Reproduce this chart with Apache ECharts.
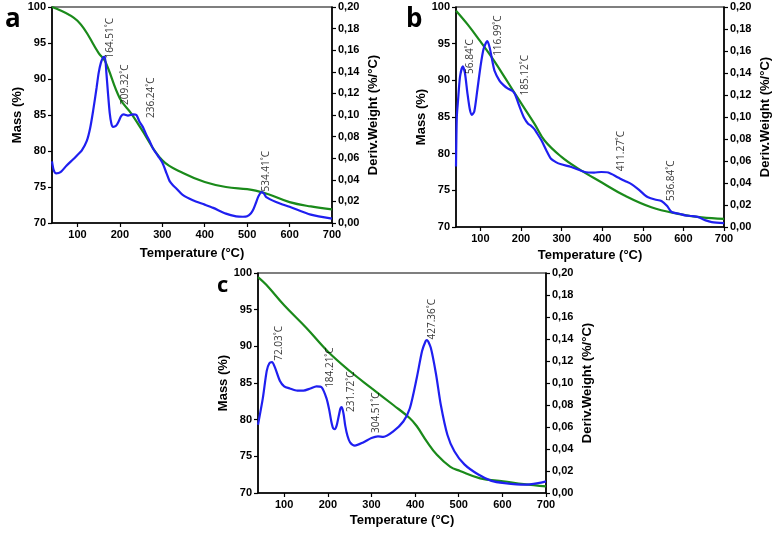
<!DOCTYPE html>
<html>
<head>
<meta charset="utf-8">
<script src="https://cdn.jsdelivr.net/npm/echarts@6/dist/echarts.min.js"></script>
<style>html,body{margin:0;padding:0;background:#fff}#c{width:774px;height:533px}</style>
</head>
<body>
<div id="c"></div>
<script>
// ---------- data ----------
var xTicks = [100, 200, 300, 400, 500, 600, 700];

// panel a
var aMassT = [40,100,150,165,200,227,250,300,350,400,450,500,520,550,600,650,700];
var aMass  = [100,98.1,93.6,92.5,87.3,85.2,83.1,78.7,76.9,75.7,75.0,74.7,74.5,74.0,72.9,72.3,71.9];
var aDerT  = [40,44,50,60,74,90,100,110,122,130,137,145,150,155,160,164.5,168,172,176,180,184,191,197,203,209,219,231,239,246,254,262,270,278,290,300,310,317,325,333,348,372,400,420,450,474,490,500,509,515,521,527,534.4,540,545,568,600,650,700];
var aDer   = [0.057,0.049,0.046,0.047,0.053,0.059,0.063,0.067,0.076,0.088,0.104,0.125,0.139,0.148,0.153,0.154,0.14,0.12,0.102,0.092,0.089,0.090,0.094,0.099,0.1005,0.0995,0.1005,0.1,0.094,0.089,0.082,0.076,0.069,0.062,0.056,0.046,0.039,0.035,0.032,0.026,0.021,0.017,0.014,0.0087,0.0062,0.0058,0.0062,0.009,0.013,0.019,0.025,0.0285,0.027,0.024,0.0195,0.015,0.0077,0.004];
var aPeaks = [[178,0.171,'164.51˚C'],[213,0.128,'209.32˚C'],[274,0.116,'236.24˚C'],[544,0.048,'534.41˚C']];

// panel b
var bMassT = [40,69,100,126,151,192,233,258,299,340,398,455,521,587,645,700];
var bMass  = [99.5,97.6,95.3,93.3,91.2,87.6,84.1,81.8,79.6,78.0,76.1,74.3,72.7,71.8,71.3,71.1];
var bDerT  = [40,42,45,50,56.8,62,68,74,79,85,92,100,108,117,123,130,135,147,157,167,178,185,192,200,208,217,225,233,240,250,262,274,286,299,324,357,380,398,415,439,455,472,490,505,513,530,546,560,571,590,604,620,637,655,670,700];
var bDer   = [0.055,0.10,0.115,0.137,0.146,0.14,0.122,0.107,0.102,0.105,0.123,0.145,0.162,0.169,0.163,0.15,0.142,0.133,0.129,0.126,0.124,0.121,0.114,0.106,0.099,0.094,0.092,0.089,0.085,0.079,0.07,0.062,0.059,0.057,0.0545,0.050,0.0495,0.050,0.0495,0.045,0.042,0.039,0.034,0.029,0.027,0.025,0.0236,0.019,0.0136,0.012,0.0106,0.010,0.009,0.006,0.0045,0.0036];
var bPeaks = [[75,0.155,'56.84˚C'],[144,0.174,'116.99˚C'],[210,0.138,'185.12˚C'],[446,0.069,'411.27˚C'],[569,0.042,'536.84˚C']];

// panel c
var cMassT = [40,59,100,151,200,251,300,350,388,404,427,450,480,503,549,602,649,700];
var cMass  = [99.45,98.4,95.6,92.5,89.3,86.6,84.3,82.0,80.2,79.1,77.0,75.2,73.6,73.0,72.0,71.6,71.2,70.9];
var cDerT  = [40,51,60,66,72,79,90,100,113,130,144,160,174,186,197,203,208,212,216,220,224,229,232,236,240,245,251,262,281,300,315,327,350,373,388,404,416,424,427,436,448,459,474,490,513,544,575,605,651,682,700];
var cDer   = [0.062,0.086,0.111,0.118,0.119,0.114,0.102,0.097,0.095,0.093,0.093,0.095,0.097,0.096,0.086,0.076,0.065,0.059,0.058,0.061,0.068,0.077,0.078,0.072,0.061,0.052,0.046,0.043,0.046,0.050,0.0515,0.051,0.056,0.065,0.077,0.105,0.129,0.138,0.139,0.132,0.108,0.080,0.053,0.038,0.026,0.017,0.011,0.009,0.0076,0.009,0.0106];
var cPeaks = [[88.5,0.136,'72.03˚C'],[205,0.114,'184.21˚C'],[254.5,0.092,'231.72˚C'],[310,0.073,'304.51˚C'],[438,0.158,'427.36˚C']];

// ---------- chart ----------
var GREEN = '#1a8a1a', BLUE = '#1f1ff0';
var FONT = 'Liberation Sans';
function zip(xs, ys){ return xs.map(function(x,i){ return [x, ys[i]]; }); }

var grids = [
  {left:52, top:7, width:280, height:216},
  {left:456, top:7, width:268, height:220},
  {left:258, top:273, width:288, height:220}
];
var nameGapsX = [24, 22, 21];

var option = {
  animation:false,
  backgroundColor:'#fff',
  title:[
    {text:'a', left:0, top:2, textStyle:{fontSize:26, fontWeight:'bold', fontFamily:'Open Sans', color:'#000'}},
    {text:'b', left:401, top:2, textStyle:{fontSize:26, fontWeight:'bold', fontFamily:'Open Sans', color:'#000'}},
    {text:'c', left:212, top:270, textStyle:{fontSize:22, fontWeight:'bold', fontFamily:'Open Sans', color:'#000'}}
  ],
  grid: grids.map(function(g){ return Object.assign({show:true, borderColor:'#000', borderWidth:1.2, backgroundColor:'transparent'}, g); }),
  xAxis: [0,1,2].map(function(i){ return {
    type:'value', gridIndex:i, min:40, max:700,
    name:'Temperature (°C)', nameLocation:'middle', nameGap:nameGapsX[i],
    nameTextStyle:{fontSize:13, fontWeight:'bold', fontFamily:FONT, color:'#000'},
    axisLine:{show:true, onZero:false, lineStyle:{color:'#000', width:1.5}},
    axisTick:{show:true, length:4, customValues:xTicks, lineStyle:{color:'#000', width:1.2}},
    axisLabel:{customValues:xTicks, fontSize:11, fontWeight:'bold', fontFamily:FONT, color:'#000', margin:6},
    splitLine:{show:false}
  }; }),
  yAxis: [],
  series: []
};

[0,1,2].forEach(function(i){
  option.yAxis.push({
    type:'value', gridIndex:i, min:70, max:100, interval:5, position:'left',
    name:'Mass (%)', nameLocation:'middle', nameGap:26,
    nameTextStyle:{fontSize:13, fontWeight:'bold', fontFamily:FONT, color:'#000'},
    axisLine:{show:true, onZero:false, lineStyle:{color:'#000', width:1.5}},
    axisTick:{show:true, length:4, lineStyle:{color:'#000', width:1.2}},
    axisLabel:{fontSize:11, fontWeight:'bold', fontFamily:FONT, color:'#000', margin:6},
    splitLine:{show:false}
  });
  option.yAxis.push({
    type:'value', gridIndex:i, min:0, max:0.2, interval:0.02, position:'right',
    name:'Deriv.Weight (%/°C)', nameLocation:'middle', nameGap:35,
    nameTextStyle:{fontSize:13, fontWeight:'bold', fontFamily:FONT, color:'#000'},
    axisLine:{show:true, onZero:false, lineStyle:{color:'#000', width:1.5}},
    axisTick:{show:true, length:4, lineStyle:{color:'#000', width:1.2}},
    axisLabel:{fontSize:11, fontWeight:'bold', fontFamily:FONT, color:'#000', margin:6,
      formatter:function(v){ return v.toFixed(2).replace('.', ','); }},
    splitLine:{show:false}
  });
});

var panels = [
  [aMassT,aMass,aDerT,aDer,aPeaks],
  [bMassT,bMass,bDerT,bDer,bPeaks],
  [cMassT,cMass,cDerT,cDer,cPeaks]
];
panels.forEach(function(p, i){
  option.series.push({
    type:'line', xAxisIndex:i, yAxisIndex:2*i, data:zip(p[0],p[1]),
    showSymbol:false, smooth:0.4, lineStyle:{color:GREEN, width:2.2}, z:2
  });
  option.series.push({
    type:'line', xAxisIndex:i, yAxisIndex:2*i+1, data:zip(p[2],p[3]),
    showSymbol:false, smooth:0.25, lineStyle:{color:BLUE, width:2.2}, z:3
  });
  option.series.push({
    type:'scatter', xAxisIndex:i, yAxisIndex:2*i+1, data:p[4], symbolSize:0,
    label:{show:true, position:'inside', rotate:90, formatter:function(d){ return d.value[2]; },
      fontSize:10, fontFamily:'Open Sans', color:'#000'}, z:4
  });
});

var chart = echarts.init(document.getElementById('c'));
chart.setOption(option);
</script>
</body>
</html>
